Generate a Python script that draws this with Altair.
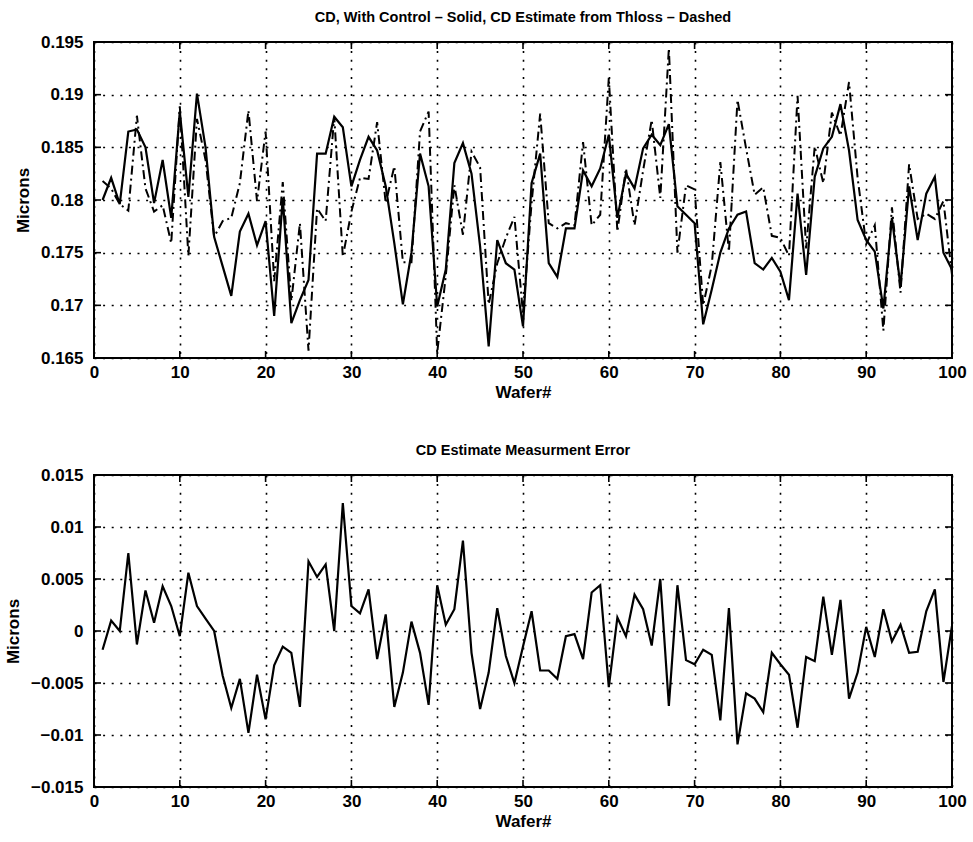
import altair as alt
import pandas as pd

# ---------------- data ----------------
wafer = list(range(1, 101))

cd_control = [
    0.1800, 0.1821, 0.1796, 0.1865, 0.1867, 0.1850, 0.1797, 0.1838, 0.1783, 0.1884,
    0.1803, 0.1901, 0.1850, 0.1765, 0.1737, 0.1709, 0.1770, 0.1787, 0.1757, 0.1780,
    0.1690, 0.1802, 0.1683, 0.1705, 0.1724, 0.1844, 0.1844, 0.1879, 0.1869, 0.1813,
    0.1838, 0.1860, 0.1847, 0.1813, 0.1759, 0.1701, 0.1750, 0.1844, 0.1813, 0.1699,
    0.1734, 0.1835, 0.1854, 0.1825, 0.1756, 0.1661, 0.1762, 0.1740, 0.1734, 0.1680,
    0.1816, 0.1844, 0.1740, 0.1727, 0.1773, 0.1773, 0.1828, 0.1813, 0.1830, 0.1862,
    0.1783, 0.1825, 0.1811, 0.1849, 0.1862, 0.1852, 0.1872, 0.1794, 0.1786, 0.1778,
    0.1682, 0.1715, 0.1750, 0.1773, 0.1786, 0.1789, 0.1740, 0.1734, 0.1745, 0.1732,
    0.1705, 0.1806, 0.1729, 0.1822, 0.1849, 0.1860, 0.1891, 0.1847, 0.1781, 0.1762,
    0.1751, 0.1697, 0.1783, 0.1718, 0.1813, 0.1762, 0.1806, 0.1822, 0.1750, 0.1734,
]

cd_estimate = [
    0.1818, 0.1811, 0.1796, 0.1790, 0.1880, 0.1811, 0.1789, 0.1795, 0.1759, 0.1889,
    0.1747, 0.1877, 0.1838, 0.1765, 0.1780, 0.1783, 0.1816, 0.1885, 0.1799, 0.1865,
    0.1723, 0.1817, 0.1704, 0.1778, 0.1657, 0.1792, 0.1780, 0.1879, 0.1746, 0.1789,
    0.1821, 0.1820, 0.1874, 0.1797, 0.1832, 0.1741, 0.1741, 0.1865, 0.1884, 0.1655,
    0.1728, 0.1814, 0.1767, 0.1846, 0.1831, 0.1701, 0.1740, 0.1764, 0.1784, 0.1692,
    0.1797, 0.1882, 0.1778, 0.1773, 0.1778, 0.1776, 0.1855, 0.1776, 0.1786, 0.1916,
    0.1770, 0.1830, 0.1776, 0.1828, 0.1876, 0.1802, 0.1944, 0.1750, 0.1814, 0.1810,
    0.1700, 0.1738, 0.1836, 0.1751, 0.1895, 0.1849, 0.1805, 0.1812, 0.1766, 0.1764,
    0.1747, 0.1899, 0.1754, 0.1851, 0.1816, 0.1883, 0.1861, 0.1912, 0.1821, 0.1758,
    0.1776, 0.1676, 0.1793, 0.1712, 0.1834, 0.1782, 0.1787, 0.1782, 0.1799, 0.1729,
]

est_error = [
    -0.0018, 0.0010, 0.0000, 0.0075, -0.0013, 0.0039, 0.0008, 0.0043, 0.0024, -0.0005,
    0.0056, 0.0024, 0.0012, 0.0000, -0.0043, -0.0074, -0.0046, -0.0098, -0.0042, -0.0085,
    -0.0033, -0.0015, -0.0021, -0.0073, 0.0067, 0.0052, 0.0064, 0.0000, 0.0123, 0.0024,
    0.0017, 0.0040, -0.0027, 0.0016, -0.0073, -0.0040, 0.0009, -0.0021, -0.0071, 0.0044,
    0.0006, 0.0021, 0.0087, -0.0021, -0.0075, -0.0040, 0.0022, -0.0024, -0.0050, -0.0015,
    0.0019, -0.0038, -0.0038, -0.0046, -0.0005, -0.0003, -0.0027, 0.0037, 0.0044, -0.0054,
    0.0013, -0.0005, 0.0035, 0.0021, -0.0014, 0.0050, -0.0072, 0.0044, -0.0028, -0.0032,
    -0.0018, -0.0023, -0.0086, 0.0022, -0.0109, -0.0060, -0.0065, -0.0078, -0.0021, -0.0032,
    -0.0042, -0.0093, -0.0025, -0.0029, 0.0033, -0.0023, 0.0030, -0.0065, -0.0040, 0.0004,
    -0.0025, 0.0021, -0.0010, 0.0006, -0.0021, -0.0020, 0.0019, 0.0040, -0.0049, 0.0005,
]

x_ticks = [0, 10, 20, 30, 40, 50, 60, 70, 80, 90, 100]
top_ticks = [0.165, 0.17, 0.175, 0.18, 0.185, 0.19, 0.195]
bot_ticks = [-0.015, -0.01, -0.005, 0, 0.005, 0.01, 0.015]

top_title = "CD, With Control \u2013 Solid, CD Estimate from Thloss \u2013 Dashed"
bot_title = "CD Estimate Measurment Error"
x_title = "Wafer#"
y_title = "Microns"

# ---------------- styling ----------------
FONT = "Liberation Sans"
W = 858
H1 = 316
H2 = 312
TICK_LEN = 7

df = pd.DataFrame({"wafer": wafer, "control": cd_control,
                   "estimate": cd_estimate, "error": est_error})
xt = pd.DataFrame({"t": x_ticks})

common_axis = dict(
    labelFont=FONT, labelFontSize=17, labelFontWeight="bold", labelColor="black",
    titleFont=FONT, titleFontSize=17, titleFontWeight="bold", titleColor="black",
    grid=True, gridColor="black", gridDash=[2, 6.6], gridWidth=1.6, gridOpacity=1,
    ticks=False, tickSize=0, domain=False, labelFlush=False,
)

x_scale = alt.Scale(domain=[0, 100], nice=False, zero=False)
x_axis = alt.Axis(values=x_ticks, title=x_title, labelPadding=6, titlePadding=4,
                  format="d", **common_axis)


def panel(ycol_list, ticks, height, title, styles):
    y_scale = alt.Scale(domain=[ticks[0], ticks[-1]], nice=False, zero=False)
    y_axis = alt.Axis(values=ticks, title=y_title, labelPadding=11, titlePadding=8,
                      format=".3~f", **common_axis)
    yt = pd.DataFrame({"t": ticks})
    layers = []
    for col, dash in zip(ycol_list, styles):
        kw = dict(color="black", strokeWidth=2.2, clip=True)
        if dash:
            kw["strokeDash"] = dash
            kw["strokeWidth"] = 2.0
        layers.append(
            alt.Chart(df).mark_line(**kw).encode(
                x=alt.X("wafer:Q", scale=x_scale, axis=x_axis),
                y=alt.Y(f"{col}:Q", scale=y_scale, axis=y_axis),
            )
        )
    # inward tick marks (MATLAB style), bottom / top / left / right
    tick_kw = dict(color="black", strokeWidth=1.6)
    layers.append(alt.Chart(xt).mark_rule(**tick_kw).encode(
        x=alt.X("t:Q", scale=x_scale, axis=x_axis),
        y=alt.value(height), y2=alt.value(height - TICK_LEN)))
    layers.append(alt.Chart(xt).mark_rule(**tick_kw).encode(
        x=alt.X("t:Q", scale=x_scale, axis=x_axis),
        y=alt.value(0), y2=alt.value(TICK_LEN)))
    layers.append(alt.Chart(yt).mark_rule(**tick_kw).encode(
        y=alt.Y("t:Q", scale=y_scale, axis=y_axis),
        x=alt.value(0), x2=alt.value(TICK_LEN)))
    layers.append(alt.Chart(yt).mark_rule(**tick_kw).encode(
        y=alt.Y("t:Q", scale=y_scale, axis=y_axis),
        x=alt.value(W - TICK_LEN), x2=alt.value(W)))
    return alt.layer(*layers).properties(
        width=W, height=height,
        title=alt.TitleParams(title, font=FONT, fontSize=14.5, fontWeight="bold",
                              color="black", offset=8, anchor="middle"),
    )


top = panel(["control", "estimate"], top_ticks, H1, top_title, [None, [9, 4, 2, 4]])
bottom = panel(["error"], bot_ticks, H2, bot_title, [None])

chart = alt.vconcat(top, bottom, spacing=117, bounds="flush").properties(
    padding={"left": 3, "top": 8, "right": 0, "bottom": 0},
    background="white",
).configure_view(stroke="black", strokeWidth=2)

chart.save("out.html", embed_options={"renderer": "svg", "actions": False})
